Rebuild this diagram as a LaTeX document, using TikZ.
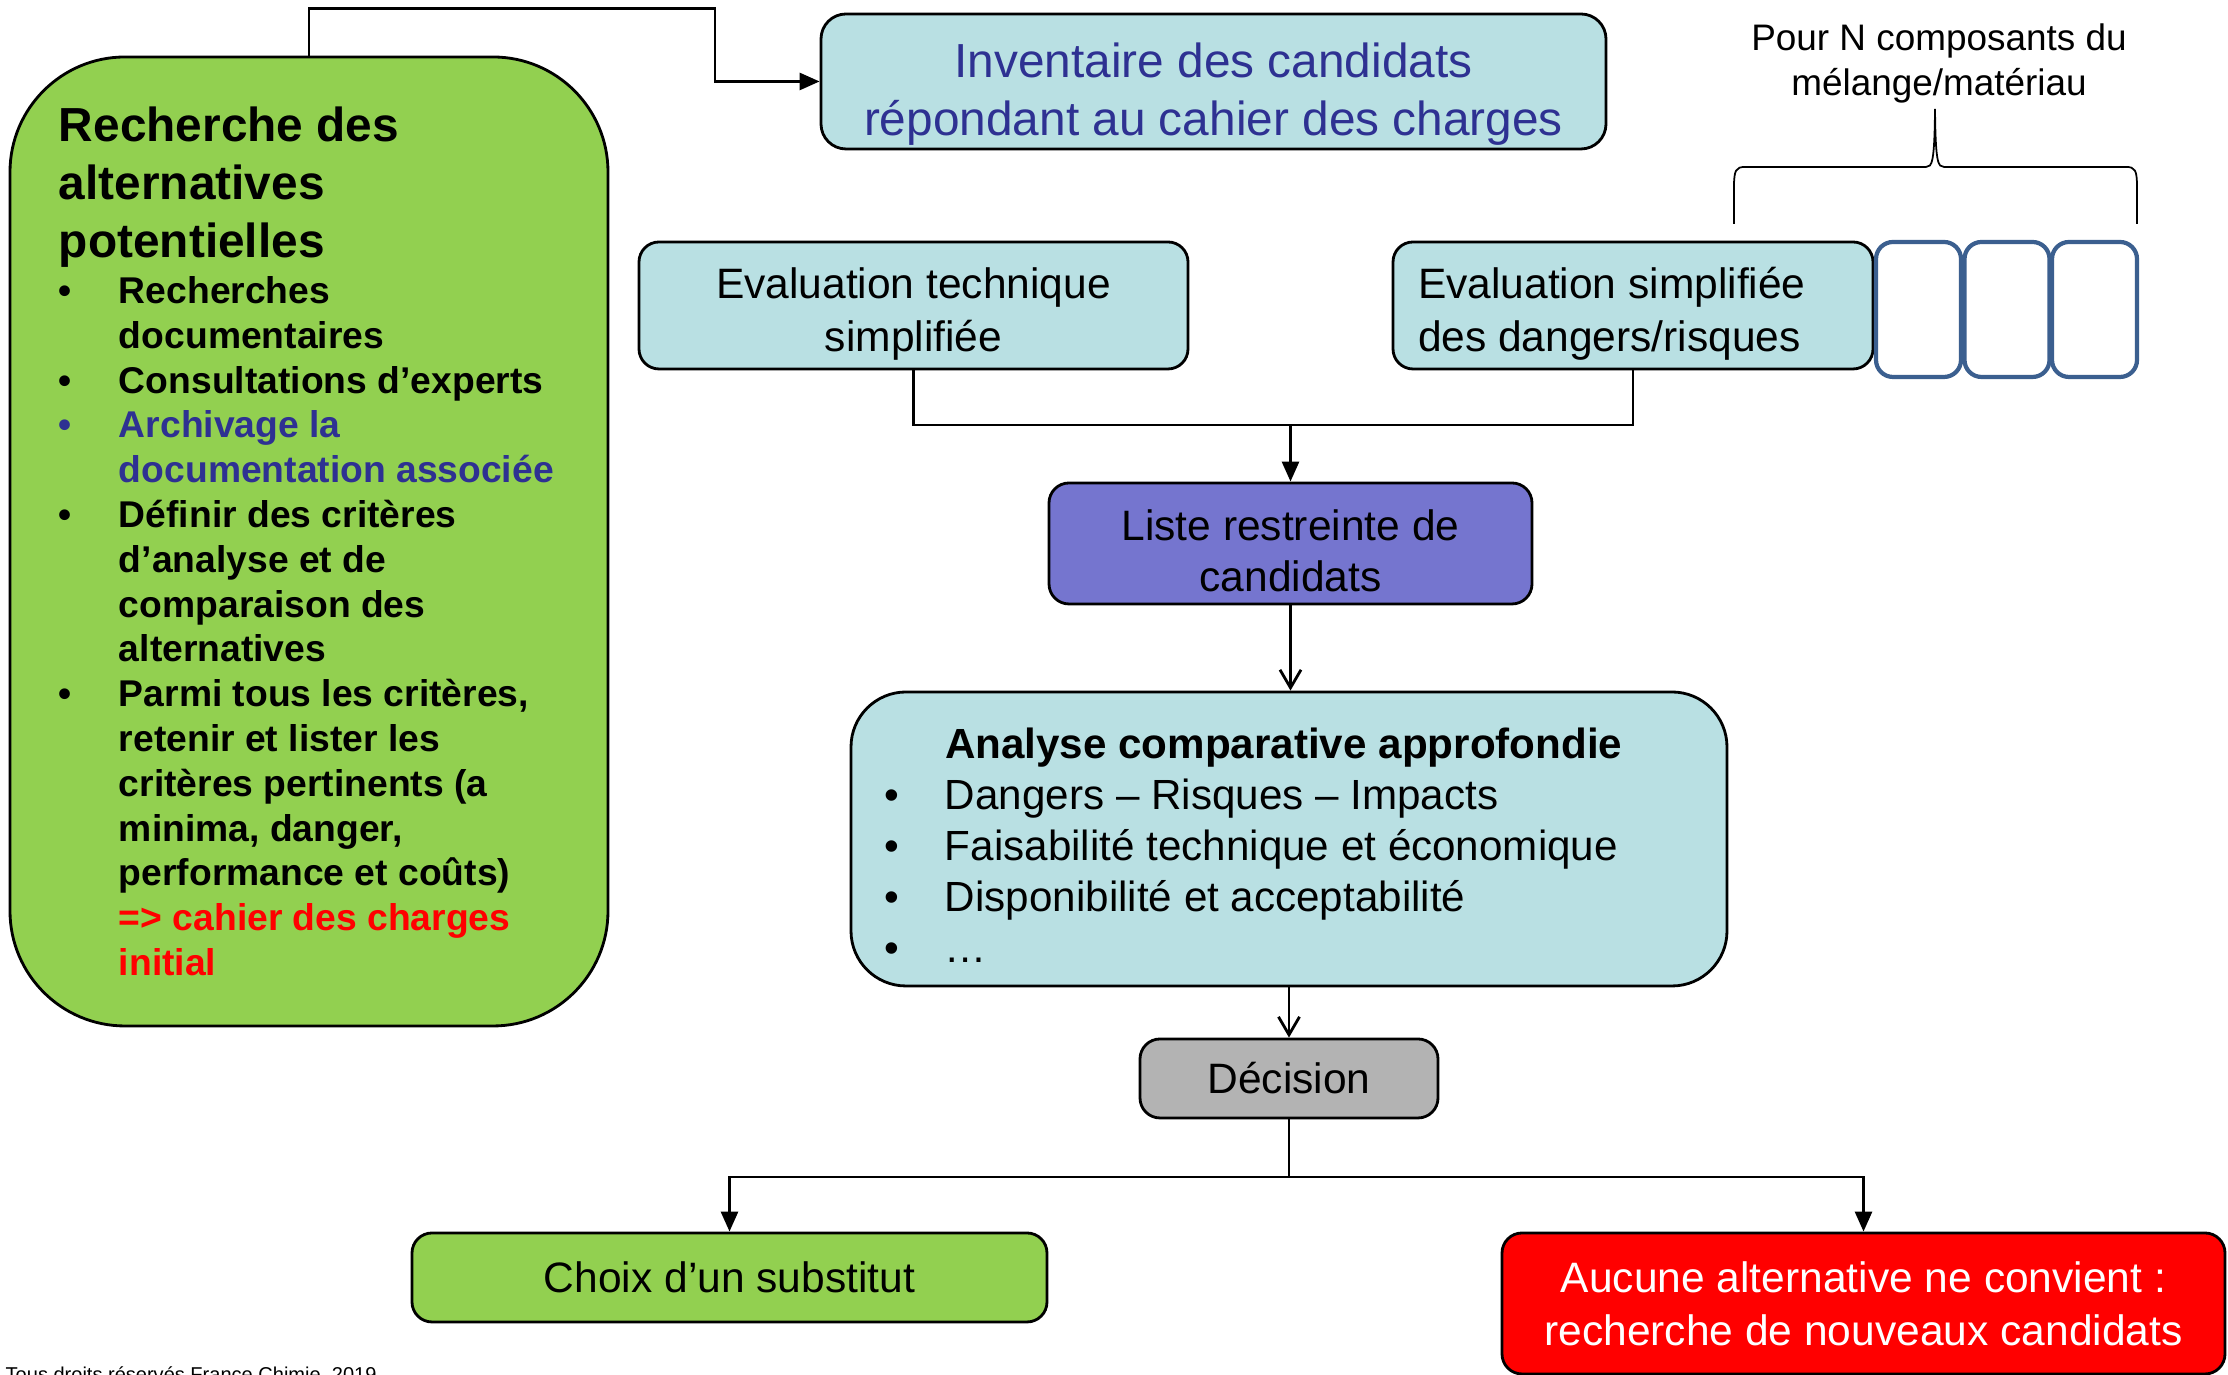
\documentclass[tikz,border=0pt]{standalone}
\usepackage{fontspec}
\setmainfont{Liberation Sans}
\usetikzlibrary{arrows.meta}

\definecolor{vertclair}{HTML}{92D050}
\definecolor{bleuclair}{HTML}{B9E0E3}
\definecolor{bleutexte}{HTML}{2E3192}
\definecolor{bleucadre}{HTML}{3B5F8F}
\definecolor{violetliste}{HTML}{7575CF}
\definecolor{grisdecision}{HTML}{B3B3B3}
\definecolor{rougevif}{HTML}{FF0000}

\newcommand{\puce}[1]{\par\noindent\hangindent=0.6cm\hangafter=1\makebox[0.6cm][l]{\textbullet}#1}
% texte centre, abaisse dans sa boite
\newcommand{\texte}[3]{\raisebox{-#1}[\height][\depth]{\parbox{#2}{\centering #3}}}

\begin{document}
\begin{tikzpicture}[
  boite/.style={draw, line width=0.8pt, rounded corners=0.2cm, align=center, inner sep=0pt},
  fleche/.style={line width=0.8pt, -{Triangle[length=2mm,width=1.7mm]}},
  flecheV/.style={line width=0.8pt, -{Straight Barb[length=1.8mm,width=2.1mm]}},
  lien/.style={line width=0.8pt},
  composant/.style={draw=bleucadre, line width=1.2pt, rounded corners=0.17cm, fill=white, minimum width=0.85cm, minimum height=1.35cm},
]
\useasboundingbox (0,0) rectangle (22.28,13.75);

% Recherche des alternatives
\node[boite, fill=vertclair, rounded corners=1.15cm, minimum width=5.98cm, minimum height=9.69cm, align=left] (recherche) at (3.09, 8.335) {\parbox{5.0cm}{\bfseries
  \fontsize{13.6}{16.5}\selectfont Recherche des\\alternatives\\potentielles\par
  \vspace{0.01cm}\fontsize{10.6}{12.75}\selectfont
  \puce{Recherches\\documentaires}
  \puce{Consultations d’experts}
  {\color{bleutexte}\puce{Archivage la\\documentation associée}\par}
  \puce{Définir des critères\\d’analyse et de\\comparaison des\\alternatives}
  \puce{Parmi tous les critères,\\retenir et lister les\\critères pertinents (a\\minima, danger,\\performance et coûts)\\{\color{rougevif}=> cahier des charges\\initial}}\par}};

% Inventaire
\node[boite, fill=bleuclair, rounded corners=0.25cm, minimum width=7.85cm, minimum height=1.35cm, text=bleutexte, font=\fontsize{13.6}{16.5}\selectfont] (inventaire) at (12.135, 12.935) {\texte{0.13cm}{7.6cm}{Inventaire des candidats\\répondant au cahier des charges}};

% Evaluations
\node[boite, fill=bleuclair, minimum width=5.49cm, minimum height=1.27cm, font=\fontsize{12.1}{15}\selectfont] (evaltech) at (9.135, 10.695) {\texte{0.085cm}{5.3cm}{Evaluation technique\\simplifiée}};
\node[boite, fill=bleuclair, minimum width=4.80cm, minimum height=1.27cm, font=\fontsize{12.1}{15}\selectfont] (evaldang) at (16.33, 10.695) {\raisebox{-0.085cm}[\height][\depth]{\parbox{4.30cm}{Evaluation simplifiée\\des dangers/risques}}};

% Composants
\foreach \i/\x in {1/19.185, 2/20.07, 3/20.945}
  \node[composant] (comp\i) at (\x, 10.655) {};

\node[font=\fontsize{10.5}{12.8}\selectfont, align=center, inner sep=0pt] (pourN) at (19.39, 13.12) {Pour N composants du\\mélange/matériau};
\draw[line width=0.5pt] (17.34,11.51) -- (17.34,11.88) .. controls (17.34,12.05) and (17.36,12.08) .. (17.45,12.08) -- (19.26,12.08) .. controls (19.32,12.08) and (19.345,12.12) .. (19.35,12.66) .. controls (19.355,12.12) and (19.38,12.08) .. (19.44,12.08) -- (21.26,12.08) .. controls (21.35,12.08) and (21.37,12.05) .. (21.37,11.88) -- (21.37,11.51);

% Liste restreinte
\node[boite, fill=violetliste, minimum width=4.83cm, minimum height=1.21cm, font=\fontsize{12.1}{14.5}\selectfont] (liste) at (12.905, 8.315) {\texte{0.07cm}{4.6cm}{Liste restreinte de\\candidats}};

% Analyse
\node[boite, fill=bleuclair, rounded corners=0.55cm, minimum width=8.76cm, minimum height=2.94cm, font=\fontsize{12}{14.5}\selectfont] (analyse) at (12.89, 5.36) {\raisebox{-0.06cm}[\height][\depth]{\parbox{7.96cm}{%
  \hspace*{0.54cm}\textbf{Analyse comparative approfondie}\\
  \makebox[0.54cm][l]{\hspace{-0.07cm}\textbullet}Dangers – Risques – Impacts\\
  \makebox[0.54cm][l]{\hspace{-0.07cm}\textbullet}Faisabilité technique et économique\\
  \makebox[0.54cm][l]{\hspace{-0.07cm}\textbullet}Disponibilité et acceptabilité\\
  \makebox[0.54cm][l]{\hspace{-0.07cm}\textbullet}…}}};

% Decision
\node[boite, fill=grisdecision, minimum width=2.98cm, minimum height=0.79cm, font=\fontsize{12.1}{15}\selectfont] (decision) at (12.89, 2.965) {Décision};
\node[boite, fill=vertclair, minimum width=6.35cm, minimum height=0.89cm, font=\fontsize{12.1}{15}\selectfont] (choix) at (7.295, 0.975) {Choix d’un substitut};
\node[boite, fill=rougevif, text=white, minimum width=7.23cm, minimum height=1.41cm, font=\fontsize{12.1}{15}\selectfont] (aucune) at (18.635, 0.715) {Aucune alternative ne convient :\\recherche de nouveaux candidats};

\node[anchor=base west, font=\fontsize{5.7}{7}\selectfont, inner sep=0pt] (droits) at (0.05, -0.07) {Tous droits réservés France Chimie, 2019};

% Flèches
\coordinate (coude) at (7.15, 13.665);
\draw[fleche] (recherche.north) |- (coude) |- (inventaire.west);
\coordinate (jonction) at (12.905, 9.50);
\draw[lien] (evaltech.south) |- (jonction) -| (evaldang.south);
\draw[fleche] (jonction) -- (liste.north);
\draw[flecheV] (liste.south) -- (liste.south |- analyse.north);
\draw[flecheV] (analyse.south) -- (decision.north);
\coordinate (fourche) at (12.89, 1.98);
\draw[lien] (decision.south) -- (fourche);
\draw[fleche] (fourche) -| (choix.north);
\draw[fleche] (fourche) -| (aucune.north);

\end{tikzpicture}
\end{document}
